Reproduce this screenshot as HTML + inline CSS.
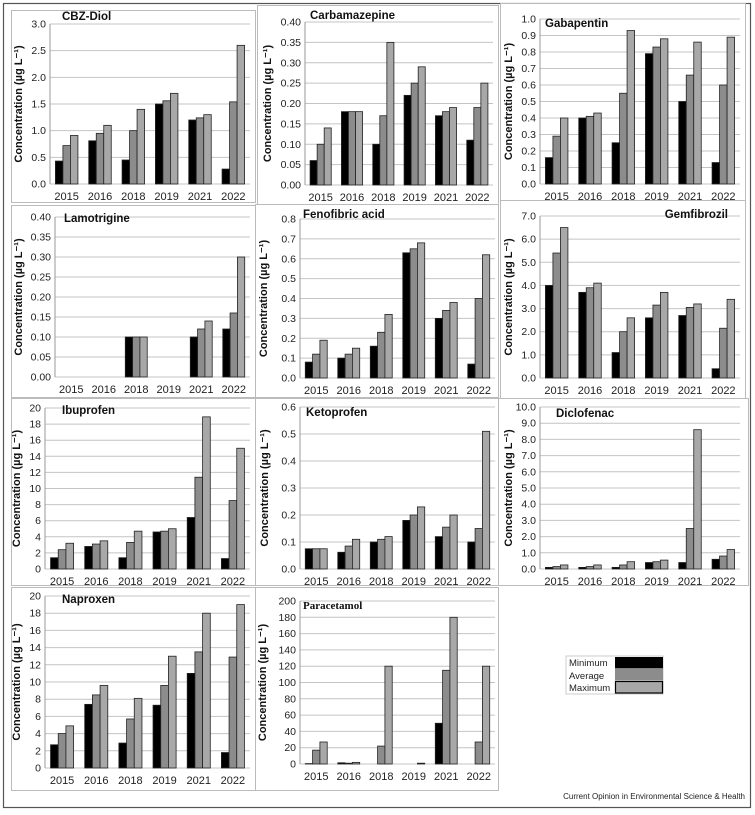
<!DOCTYPE html>
<html><head><meta charset="utf-8"><style>
body{margin:0;background:#fff;width:755px;height:810px;overflow:hidden;font-family:"Liberation Sans",sans-serif}
</style></head><body>
<svg id="fig" width="755" height="810" xmlns="http://www.w3.org/2000/svg" font-family="Liberation Sans, sans-serif">
<rect x="3.5" y="3.5" width="747" height="804" fill="#fff" stroke="#555" stroke-width="1.2"/>
<g>
<rect x="566" y="656" width="97" height="38" fill="#fff" stroke="#ccc"/>
<text x="569" y="666" font-size="9.5" fill="#222">Minimum</text>
<text x="569" y="679" font-size="9.5" fill="#222">Average</text>
<text x="569" y="691" font-size="9.5" fill="#222">Maximum</text>
<rect x="615" y="657" width="48" height="11.5" fill="#000"/>
<rect x="615" y="669" width="48" height="11.5" fill="#8c8c8c"/>
<rect x="615.5" y="681.5" width="47" height="11.5" fill="#a8a8a8" stroke="#000" stroke-width="1.2"/>
</g>
<text x="745" y="799" font-size="8" text-anchor="end" fill="#222">Current Opinion in Environmental Science &amp; Health</text>
</svg>
<script>
const years = ["2015","2016","2018","2019","2021","2022"];
const titles = ["CBZ-Diol","Carbamazepine","Gabapentin","Lamotrigine","Fenofibric acid","Gemfibrozil","Ibuprofen","Ketoprofen","Diclofenac","Naproxen","Paracetamol"];
const minimumValues = [
 [0.43,0.81,0.45,1.5,1.2,0.28],
 [0.06,0.18,0.10,0.22,0.17,0.11],
 [0.16,0.40,0.25,0.79,0.50,0.13],
 [0,0,0.10,0,0.10,0.12],
 [0.08,0.10,0.16,0.63,0.30,0.07],
 [4.0,3.7,1.1,2.6,2.7,0.4],
 [1.4,2.8,1.4,4.6,6.4,1.3],
 [0.075,0.062,0.10,0.18,0.12,0.10],
 [0.1,0.1,0.1,0.4,0.4,0.6],
 [2.7,7.4,2.9,7.3,11,1.8],
 [0.5,1.5,0,0,50,0]];
const averageValues = [
 [0.72,0.95,1.0,1.56,1.24,1.54],
 [0.10,0.18,0.17,0.25,0.18,0.19],
 [0.29,0.41,0.55,0.83,0.66,0.60],
 [0,0,0.10,0,0.12,0.16],
 [0.12,0.12,0.23,0.65,0.34,0.40],
 [5.4,3.9,2.0,3.15,3.05,2.15],
 [2.4,3.1,3.3,4.7,11.4,8.5],
 [0.075,0.085,0.11,0.20,0.155,0.15],
 [0.15,0.15,0.25,0.45,2.5,0.8],
 [4.0,8.5,5.7,9.6,13.5,12.9],
 [17,1,22,0,115,27]];
const maximumValues = [
 [0.91,1.1,1.4,1.7,1.3,2.6],
 [0.14,0.18,0.35,0.29,0.19,0.25],
 [0.40,0.43,0.93,0.88,0.86,0.89],
 [0,0,0.10,0,0.14,0.30],
 [0.19,0.15,0.32,0.68,0.38,0.62],
 [6.5,4.1,2.6,3.7,3.2,3.4],
 [3.2,3.5,4.7,5.0,18.9,15.0],
 [0.075,0.11,0.12,0.23,0.20,0.51],
 [0.25,0.25,0.45,0.55,8.6,1.2],
 [4.9,9.6,8.1,13,18,19],
 [27,2,120,1,180,120]];
const axisMax = [3.0,0.40,1.0,0.40,0.8,7.0,20,0.6,10.0,20,200];
const axisStep = [0.5,0.05,0.1,0.05,0.1,1,2,0.1,1,2,20];
const axisDecimals = [1,2,1,2,1,1,0,1,1,0,0];

// layout (not data)
const layout = [
 {px:11,py:10,pw:244,ph:192,x0:50,x1:250,y0:24,y1:184,tx:62,ty:20,anchor:"start",ax:22},
 {px:257,py:5,pw:241,ph:199,x0:305,x1:493,y0:22,y1:185,tx:310,ty:19,anchor:"start",ax:271},
 {px:500,py:3,pw:245,ph:199,x0:540,x1:740,y0:19,y1:184,tx:545,ty:27,anchor:"start",ax:512},
 {px:11,py:205,pw:244,ph:192,x0:55,x1:250,y0:217,y1:377,tx:64,ty:222,anchor:"start",ax:22},
 {px:255,py:204,pw:243,ph:193,x0:300,x1:495,y0:219,y1:378,tx:303,ty:218,anchor:"start",ax:267},
 {px:500,py:200,pw:245,ph:198,x0:540,x1:740,y0:216,y1:378,tx:728,ty:218,anchor:"end",ax:512},
 {px:11,py:398,pw:244,ph:187,x0:45,x1:250,y0:408,y1:569,tx:62,ty:414,anchor:"start",ax:20},
 {px:255,py:398,pw:243,ph:187,x0:300,x1:495,y0:407,y1:569,tx:306,ty:416,anchor:"start",ax:268},
 {px:498,py:398,pw:250,ph:187,x0:540,x1:740,y0:407,y1:569,tx:556,ty:417,anchor:"start",ax:512},
 {px:11,py:587,pw:244,ph:203,x0:45,x1:250,y0:596,y1:768,tx:62,ty:603,anchor:"start",ax:20},
 {px:255,py:587,pw:243,ph:203,x0:300,x1:495,y0:601,y1:764,tx:303,ty:609,anchor:"start",serif:true,ax:266}];

const NS="http://www.w3.org/2000/svg";
const svg=document.getElementById("fig");
function mk(tag,attrs,parent){const e=document.createElementNS(NS,tag);for(const k in attrs)e.setAttribute(k,attrs[k]);parent.appendChild(e);return e;}
const fills=["#000","#8c8c8c","#a8a8a8"];
const seriesNames=["minimum","average","maximum"];
titles.forEach((t,i)=>{
 const L=layout[i];
 const g=mk("g",{},svg);
 
 
 mk("rect",{x:L.px+0.5,y:L.py+0.5,width:L.pw,height:L.ph,fill:"#fff",stroke:"#bbb"},g);
 const ys=v=>L.y1-(v/axisMax[i])*(L.y1-L.y0);
 const n=Math.round(axisMax[i]/axisStep[i]);
 for(let k=0;k<=n;k++){
  const v=k*axisStep[i], y=ys(v);
  mk("line",{x1:L.x0,x2:L.x1,y1:y,y2:y,stroke:"#c4c4c4","stroke-width":1},g);
  const tl=mk("text",{x:L.x0-4,y:y+3.5,"font-size":10.5,"text-anchor":"end",fill:"#222"},g);
  tl.textContent=v.toFixed(axisDecimals[i]);
  
  
 }
 mk("line",{x1:L.x0,x2:L.x0,y1:L.y0,y2:L.y1,stroke:"#999"},g);
 const gw=(L.x1-L.x0)/years.length, bw=gw*0.225;
 const series=[minimumValues[i],averageValues[i],maximumValues[i]];
 years.forEach((yr,j)=>{
  const cx=L.x0+gw*(j+0.5);
  series.forEach((arr,s)=>{
   const v=arr[j]; const y=ys(v);
   const r=mk("rect",{x:cx-1.5*bw+s*bw,y:y,width:bw,height:Math.max(0,L.y1-y),fill:fills[s],stroke:"#222","stroke-width":0.8},g);
   
   
  });
  const xl=mk("text",{x:cx,y:L.y1+16,"font-size":11,"text-anchor":"middle",fill:"#222"},g);
  xl.textContent=yr;
  
  
 });
 const tt=mk("text",{x:L.tx,y:L.ty,"font-size":L.serif?11:11.5,"font-weight":"bold","text-anchor":L.anchor,fill:"#111","font-family":L.serif?"Liberation Serif, serif":"Liberation Sans, sans-serif"},g);
 tt.textContent=t;
 
 
 const ax=L.ax, ay=(L.y0+L.y1)/2;
 const yt=mk("text",{x:ax,y:ay,"font-size":11,"font-weight":"bold","text-anchor":"middle",fill:"#111",transform:`rotate(-90 ${ax} ${ay})`},g);
 yt.textContent="Concentration (µg L⁻¹)";
 
 
});
</script>
</body></html>
